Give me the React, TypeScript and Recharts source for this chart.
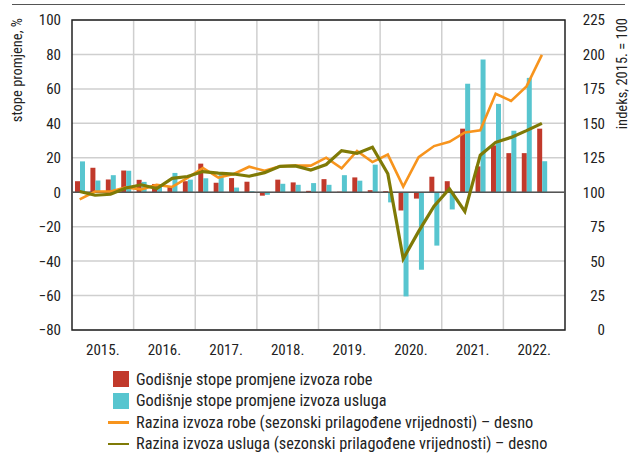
import React from 'react';
import { ComposedChart, Bar, Line, XAxis, YAxis, CartesianGrid, ReferenceLine, ReferenceArea } from 'recharts';

const FONT = "'Liberation Sans Narrow', 'Arial Narrow', 'Roboto Condensed', 'Liberation Sans', sans-serif";

const years = ['2015.', '2016.', '2017.', '2018.', '2019.', '2020.', '2021.', '2022.'];
const quarters = ['Q1', 'Q2', 'Q3', 'Q4'];

// Annual growth rates of goods exports (%), left axis
const goodsGrowth: (number | null)[] = [
  6.4, 14.2, 7.4, 12.6,
  7.2, 4.8, 3.0, 6.4,
  16.6, 5.5, 8.2, 6.1,
  -2.0, 7.3, 5.7, 0.8,
  7.6, 0.3, 8.6, 1.2,
  0.6, -10.6, -3.7, 9.0,
  6.4, 36.9, 15.0, 27.2,
  22.7, 22.7, 36.9, null,
];

// Annual growth rates of services exports (%), left axis
const servicesGrowth: (number | null)[] = [
  17.9, 6.8, 9.9, 12.4,
  6.0, 4.6, 11.2, 7.3,
  8.1, 10.5, 2.7, 0.6,
  -1.5, 4.9, 4.3, 5.3,
  4.3, 9.9, 6.7, 16.0,
  -5.9, -60.5, -45.0, -31.0,
  -10.0, 63.0, 77.0, 51.3,
  35.7, 66.4, 18.0, null,
];

// Level of goods exports (seasonally adjusted, 2015 = 100), right axis
const goodsLevel: (number | null)[] = [
  94.8, 100.5, 100.5, 103.5,
  102.1, 105.3, 103.8, 110.4,
  117.6, 110.6, 113.2, 118.5,
  115.6, 118.8, 119.3, 119.3,
  125.1, 117.4, 130.0, 121.9,
  127.3, 104.1, 125.5, 133.5,
  136.6, 143.4, 145.0, 171.5,
  166.3, 176.8, 199.7, null,
];

// Level of services exports (seasonally adjusted, 2015 = 100), right axis
const servicesLevel: (number | null)[] = [
  100.5, 97.8, 98.5, 103.1,
  105.4, 102.7, 110.1, 111.4,
  115.0, 113.9, 113.2, 111.6,
  114.2, 118.8, 119.1, 116.1,
  120.1, 130.2, 128.2, 132.6,
  113.4, 51.7, 71.6, 89.8,
  102.5, 86.0, 126.9, 136.2,
  139.8, 144.7, 150.0, null,
];

const leftTicks = [-80, -60, -40, -20, 0, 20, 40, 60, 80, 100];
const rightTicks = [0, 25, 50, 75, 100, 125, 150, 175, 200, 225];

const legendItems = [
  { label: 'Godišnje stope promjene izvoza robe', color: '#c1392b', type: 'square' },
  { label: 'Godišnje stope promjene izvoza usluga', color: '#57c5cf', type: 'square' },
  { label: 'Razina izvoza robe (sezonski prilagođene vrijednosti) – desno', color: '#f7941d', type: 'line' },
  { label: 'Razina izvoza usluga (sezonski prilagođene vrijednosti) – desno', color: '#7f7a06', type: 'line' },
];

const data = years.flatMap((y, yi) =>
  quarters.map((q, qi) => {
    const i = yi * 4 + qi;
    return {
      key: `${y}${q}`,
      year: y,
      qi,
      goodsGrowth: goodsGrowth[i],
      servicesGrowth: servicesGrowth[i],
      goodsLevel: goodsLevel[i],
      servicesLevel: servicesLevel[i],
    };
  })
);

const fmt = (v: number) => (v < 0 ? `\u2212${Math.abs(v)}` : `${v}`);

const XTick = (props: any) => {
  const { x, y, index } = props;
  const d = data[index];
  if (!d || d.qi !== 1) return null;
  return (
    <text x={x + 7.7} y={y + 25} textAnchor="middle" fill="#222" fontSize={15} fontFamily={FONT}>
      {d.year}
    </text>
  );
};

const LeftTick = (props: any) => {
  const { x, y, payload } = props;
  return (
    <text x={x} y={y} dy="0.36em" textAnchor="end" fill="#222" fontSize={15} fontFamily={FONT}>
      {fmt(payload.value)}
    </text>
  );
};

const RightTick = (props: any) => {
  const { x, y, payload } = props;
  return (
    <text x={x + 40} y={y} dy="0.36em" textAnchor="end" fill="#222" fontSize={15} fontFamily={FONT}>
      {fmt(payload.value)}
    </text>
  );
};

export default function App() {
  return (
    <div style={{ position: 'absolute', left: 0, top: 0, width: 636, height: 455, background: '#fff', fontFamily: FONT }}>
      <svg width={636} height={455} style={{ position: 'absolute', left: 0, top: 0 }}>
        <line x1={12} y1={4.5} x2={625} y2={4.5} stroke="#555" strokeWidth={1} />
        <text transform="translate(22,18) rotate(-90)" textAnchor="end" fontSize={14.5} fill="#222" fontFamily={FONT}>
          stope promjene, %
        </text>
        <text transform="translate(627,18) rotate(-90)" textAnchor="end" fontSize={14.5} fill="#222" fontFamily={FONT}>
          indeks, 2015. = 100
        </text>
      </svg>
      <div style={{ position: 'absolute', left: 0, top: 0 }}>
        <ComposedChart
          width={636}
          height={365}
          data={data}
          margin={{ top: 20, right: 21, bottom: 0, left: 22 }}
          barGap={0}
        >
          <CartesianGrid
            yAxisId="left"
            stroke="#cfcfcf"
            strokeWidth={1.5}
            verticalCoordinatesGenerator={({ offset }: any) =>
              years.slice(1).map((_, i) => offset.left + (offset.width * (i + 1)) / years.length)
            }
          />
          <XAxis
            dataKey="key"
            interval={0}
            tick={<XTick />}
            tickLine={false}
            axisLine={false}
            tickSize={0}
            tickMargin={0}
            height={35}
          />
          <YAxis
            yAxisId="left"
            domain={[-80, 100]}
            ticks={leftTicks}
            interval={0}
            width={50}
            tick={<LeftTick />}
            tickLine={false}
            axisLine={false}
            tickSize={0}
            tickMargin={11}
          />
          <YAxis
            yAxisId="right"
            orientation="right"
            domain={[0, 225]}
            ticks={rightTicks}
            interval={0}
            width={50}
            tick={<RightTick />}
            tickLine={false}
            axisLine={false}
            tickSize={0}
            tickMargin={0}
          />
          <Bar yAxisId="left" dataKey="goodsGrowth" fill="#c1392b" barSize={5} isAnimationActive={false} />
          <Bar yAxisId="left" dataKey="servicesGrowth" fill="#57c5cf" barSize={5} isAnimationActive={false} />
          <ReferenceLine yAxisId="left" y={0} stroke="#555" strokeWidth={1.5} />
          <Line
            yAxisId="right"
            dataKey="goodsLevel"
            stroke="#f7941d"
            strokeWidth={2.6}
            dot={false}
            activeDot={false}
            type="linear"
            isAnimationActive={false}
          />
          <Line
            yAxisId="right"
            dataKey="servicesLevel"
            stroke="#7f7a06"
            strokeWidth={3.2}
            dot={false}
            activeDot={false}
            type="linear"
            isAnimationActive={false}
          />
          <ReferenceArea yAxisId="left" y1={-80} y2={100} fill="none" stroke="#222" strokeWidth={1.5} ifOverflow="visible" />
        </ComposedChart>
      </div>
      <div style={{ position: 'absolute', left: 0, top: 371 }}>
        {legendItems.map((it, i) => (
          <div key={i} style={{ position: 'absolute', top: i * 21.5, left: 0, height: 21.5, width: 636 }}>
            {it.type === 'square' ? (
              <div style={{ position: 'absolute', left: 113, top: 0, width: 16, height: 16, background: it.color }} />
            ) : (
              <div style={{ position: 'absolute', left: 108, top: 7, width: 21, height: 2.5, background: it.color }} />
            )}
            <div
              style={{
                position: 'absolute',
                left: 136,
                top: -1.5,
                fontSize: 16.3,
                lineHeight: '20px',
                color: '#222',
                whiteSpace: 'nowrap',
                fontFamily: FONT,
              }}
            >
              {it.label}
            </div>
          </div>
        ))}
      </div>
    </div>
  );
}
